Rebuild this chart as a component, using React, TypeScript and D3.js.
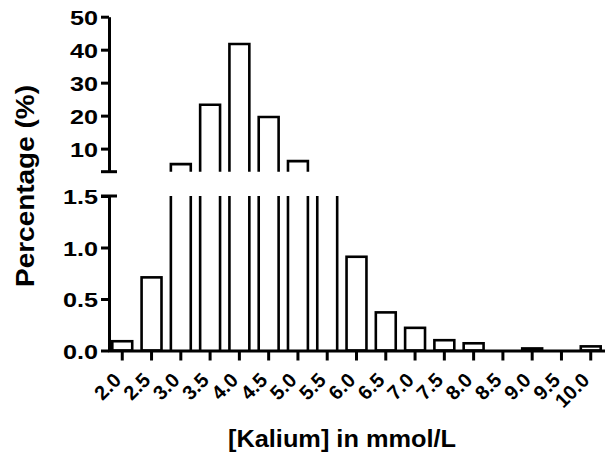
import React, { useRef, useEffect } from "react";
import * as d3 from "d3";

// potassium bins (mmol/L) and share of samples in each bin (%)
const categories = ["2.0", "2.5", "3.0", "3.5", "4.0", "4.5", "5.0", "5.5", "6.0", "6.5", "7.0", "7.5", "8.0", "8.5", "9.0", "9.5", "10.0"];
const percentages = [0.09, 0.71, 5.3, 23.3, 41.7, 19.6, 6.2, 2.0, 0.91, 0.37, 0.22, 0.1, 0.07, 0, 0.02, 0, 0.04];

// broken y axis: lower and upper segments
const lowerDomain = [0, 1.5];
const upperDomain = [3, 50];
const lowerTicks = [0, 0.5, 1.0, 1.5];
const upperTicks = [10, 20, 30, 40, 50];

const FONT = "'Liberation Sans', Arial, Helvetica, sans-serif";

const App: React.FC = () => {
  const chartRef = useRef<SVGSVGElement | null>(null);

  useEffect(() => {
    if (!chartRef.current) return;
    const svg = d3.select(chartRef.current);
    svg.selectAll("*").remove();

    const axisX = 109;
    const x = d3
      .scaleBand()
      .domain(categories)
      .range([108, 605])
      .paddingInner(0.32)
      .paddingOuter(0.147);
    const yLow = d3.scaleLinear().domain(lowerDomain).range([350.5, 196]);
    const yHigh = d3.scaleLinear().domain(upperDomain).range([171.7, 16.7]);

    const data = categories.map((c, i) => ({ c, v: percentages[i] }));

    // bars
    const bars = svg
      .append("g")
      .attr("fill", "none")
      .attr("stroke", "#000")
      .attr("stroke-width", 2.6);

    data.forEach((d) => {
      if (d.v <= 0) return;
      const x0 = x(d.c)!;
      const x1 = x0 + x.bandwidth();
      if (d.v <= lowerDomain[1]) {
        bars
          .append("rect")
          .attr("x", x0)
          .attr("y", yLow(d.v))
          .attr("width", x.bandwidth())
          .attr("height", yLow(0) - yLow(d.v))
          .attr("fill", "#fff");
      } else {
        // clipped at the break: open top
        bars
          .append("path")
          .attr("d", `M${x0},${yLow(lowerDomain[1])}V${yLow(0)}M${x1},${yLow(lowerDomain[1])}V${yLow(0)}`);
      }
      if (d.v > upperDomain[0]) {
        bars
          .append("path")
          .attr("d", `M${x0},${yHigh(upperDomain[0])}V${yHigh(d.v)}H${x1}V${yHigh(upperDomain[0])}`);
      }
    });

    const stretch = function (this: SVGTextElement, k: number) {
      const w = this.getComputedTextLength();
      this.setAttribute("textLength", String(w * k));
      this.setAttribute("lengthAdjust", "spacingAndGlyphs");
    };

    // y axes
    const styleAxis = (g: d3.Selection<SVGGElement, unknown, null, undefined>) => {
      g.select(".domain").attr("stroke", "#000").attr("stroke-width", 3);
      g.selectAll(".tick line").attr("stroke", "#000").attr("stroke-width", 3);
      g.selectAll<SVGTextElement, unknown>(".tick text")
        .attr("fill", "#000")
        .attr("font-family", FONT)
        .attr("font-weight", "bold")
        .attr("font-size", 21)
        .attr("x", -11)
        .attr("dy", "0.36em")
        .each(function () {
          stretch.call(this, 1.2);
        });
    };

    const low = svg
      .append("g")
      .attr("transform", `translate(${axisX},0)`)
      .call(
        d3
          .axisLeft(yLow)
          .tickValues(lowerTicks)
          .tickFormat(d3.format(".1f"))
          .tickSize(8)
          .tickSizeOuter(0)
      );
    styleAxis(low);
    low
      .append("line")
      .attr("x1", -8)
      .attr("x2", 8)
      .attr("y1", yLow(lowerDomain[1]))
      .attr("y2", yLow(lowerDomain[1]))
      .attr("stroke", "#000")
      .attr("stroke-width", 3);

    const high = svg
      .append("g")
      .attr("transform", `translate(${axisX},0)`)
      .call(
        d3
          .axisLeft(yHigh)
          .tickValues(upperTicks)
          .tickFormat(d3.format("d"))
          .tickSize(8)
          .tickSizeOuter(0)
      );
    styleAxis(high);
    high
      .append("line")
      .attr("x1", -8)
      .attr("x2", 8)
      .attr("y1", yHigh(upperDomain[0]))
      .attr("y2", yHigh(upperDomain[0]))
      .attr("stroke", "#000")
      .attr("stroke-width", 3);

    // x axis
    const xg = svg
      .append("g")
      .attr("transform", `translate(0,${yLow(0)})`)
      .call(d3.axisBottom(x).tickSize(10).tickSizeOuter(0));
    xg.select(".domain").attr("stroke", "#000").attr("stroke-width", 3);
    xg.selectAll(".tick line").attr("stroke", "#000").attr("stroke-width", 3);
    xg.selectAll<SVGTextElement, unknown>(".tick text")
      .attr("fill", "#000")
      .attr("font-family", FONT)
      .attr("font-weight", "bold")
      .attr("font-size", 20)
      .attr("x", null)
      .attr("y", null)
      .attr("dy", null)
      .attr("text-anchor", "end")
      .attr("transform", "translate(0,31) rotate(-45)");

    // titles
    svg
      .append("text")
      .attr("transform", "translate(34,186) rotate(-90)")
      .attr("text-anchor", "middle")
      .attr("font-family", FONT)
      .attr("font-weight", "bold")
      .attr("font-size", 26)
      .attr("textLength", 202)
      .attr("lengthAdjust", "spacingAndGlyphs")
      .text("Percentage (%)");

    svg
      .append("text")
      .attr("x", 342)
      .attr("y", 447)
      .attr("text-anchor", "middle")
      .attr("font-family", FONT)
      .attr("font-weight", "bold")
      .attr("font-size", 24)
      .attr("textLength", 228)
      .attr("lengthAdjust", "spacingAndGlyphs")
      .text("[Kalium] in mmol/L");
  }, []);

  return (
    <svg
      ref={chartRef}
      width={605}
      height={454}
      style={{ position: "absolute", left: 0, top: 0, background: "#fff" }}
    />
  );
};

export default App;
